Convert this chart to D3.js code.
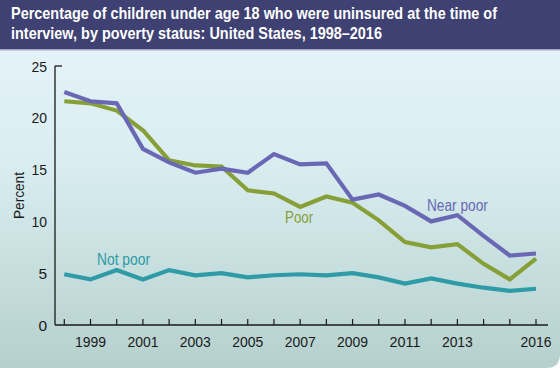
<!DOCTYPE html>
<html>
<head>
<meta charset="utf-8">
<script src="https://cdn.jsdelivr.net/npm/d3@7"></script>
<style>
  body { margin: 0; background: #fff; }
  text { font-family: "Liberation Sans", Arial, sans-serif; }
</style>
</head>
<body>
<div class="chart"></div>
<script>
const years = d3.range(1998, 2017);
const nearPoor = [22.5, 21.6, 21.4, 17.0, 15.7, 14.7, 15.1, 14.7, 16.5, 15.5, 15.6, 12.1, 12.6, 11.5, 10.0, 10.6, 8.6, 6.7, 6.9];
const poor = [21.6, 21.4, 20.7, 18.8, 15.9, 15.4, 15.3, 13.0, 12.7, 11.4, 12.4, 11.8, 10.1, 8.0, 7.5, 7.8, 5.9, 4.4, 6.4];
const notPoor = [4.9, 4.4, 5.3, 4.4, 5.3, 4.8, 5.0, 4.6, 4.8, 4.9, 4.8, 5.0, 4.6, 4.0, 4.5, 4.0, 3.6, 3.3, 3.5];
const yTicks = [0, 5, 10, 15, 20, 25];
const xTickLabels = [1999, 2001, 2003, 2005, 2007, 2009, 2011, 2013, 2016];
const titleLines = [
    'Percentage of children under age 18 who were uninsured at the time of',
    'interview, by poverty status: United States, 1998\u20132016'
];

const width = 560, height = 368;

const svg = d3.select('.chart').append('svg')
    .attr('width', width)
    .attr('height', height)

const defs = svg.append('defs')
const grad = defs.append('linearGradient')
    .attr('id', 'bg')
    .attr('x1', 0).attr('y1', 0).attr('x2', 0).attr('y2', 1)
grad.append('stop').attr('offset', '0%').attr('stop-color', '#e8f5fa')
grad.append('stop').attr('offset', '45%').attr('stop-color', '#d9edf0')
grad.append('stop').attr('offset', '100%').attr('stop-color', '#b5d0cd')

// panel with rounded bottom-right corner
svg.append('path')
    .attr('d', `M0,0 H${width} V${height - 14} Q${width},${height} ${width - 14},${height} H0 Z`)
    .attr('fill', 'url(#bg)')

// header band
svg.append('rect')
    .attr('x', 0).attr('y', 0)
    .attr('width', width).attr('height', 49)
    .attr('fill', '#3e4172')
svg.append('rect')
    .attr('x', 0).attr('y', 49)
    .attr('width', width).attr('height', 1.5)
    .attr('fill', '#a3a8c8')

// condensed look: squeeze text to the widths seen in the reference
const squeeze = (sel, w) => sel.attr('textLength', w).attr('lengthAdjust', 'spacingAndGlyphs')

// title: scaled horizontally so it looks like a condensed face
const titleW = [486, 371];
svg.selectAll('.title')
    .data(titleLines)
    .enter()
    .append('text')
    .attr('class', 'title')
    .attr('fill', '#fff')
    .attr('font-size', 16.5)
    .attr('font-weight', 'bold')
    .text(d => d)
    .each(function(d, i) {
        const natural = this.getComputedTextLength();
        d3.select(this).attr('transform', `translate(11,${19 + i * 20}) scale(${titleW[i] / natural},1)`)
    })

const x = d3.scaleLinear().domain([1998, 2016]).range([64.3, 536]);
const y = d3.scaleLinear().domain([0, 25]).range([325, 66]);

// y axis
svg.append('line')
    .attr('x1', 55).attr('x2', 55)
    .attr('y1', y(25)).attr('y2', y(0))
    .attr('stroke', '#1a1a1a').attr('stroke-width', 1.3)
svg.append('line')
    .attr('x1', 55).attr('x2', 62)
    .attr('y1', y(25)).attr('y2', y(25))
    .attr('stroke', '#1a1a1a').attr('stroke-width', 1.3)

svg.selectAll('.ylab')
    .data(yTicks)
    .enter()
    .append('text')
    .attr('class', 'ylab')
    .attr('x', 47)
    .attr('y', d => y(d) + 5.5)
    .attr('text-anchor', 'end')
    .attr('font-size', 15.5)
    .attr('fill', '#1a1a1a')
    .text(d => d)
    .each(function(d) { if (d >= 10) squeeze(d3.select(this), 15.5) })

squeeze(svg.append('text')
    .attr('transform', `translate(24,${y(12.5)}) rotate(-90)`)
    .attr('x', -23.5)
    .attr('font-size', 15)
    .attr('fill', '#1a1a1a')
    .text('Percent'), 47)

// x axis
svg.append('line')
    .attr('x1', 55).attr('x2', 548)
    .attr('y1', y(0)).attr('y2', y(0))
    .attr('stroke', '#1a1a1a').attr('stroke-width', 1.3)

svg.selectAll('.xtick')
    .data(years)
    .enter()
    .append('line')
    .attr('class', 'xtick')
    .attr('x1', d => x(d)).attr('x2', d => x(d))
    .attr('y1', y(0)).attr('y2', y(0) - 6)
    .attr('stroke', '#1a1a1a').attr('stroke-width', 1.2)

svg.selectAll('.xlab')
    .data(xTickLabels)
    .enter()
    .append('text')
    .attr('class', 'xlab')
    .attr('x', d => x(d) - 15.5)
    .attr('y', 347)
    .attr('font-size', 15.5)
    .attr('fill', '#1a1a1a')
    .text(d => d)
    .each(function() { squeeze(d3.select(this), 31) })

const line = d3.line()
    .x((d, i) => x(years[i]))
    .y(d => y(d))

const series = [
    {name: 'Not poor', values: notPoor, color: '#2e9ba6'},
    {name: 'Poor', values: poor, color: '#879f37'},
    {name: 'Near poor', values: nearPoor, color: '#6a68b5'}
];

svg.selectAll('.series')
    .data(series)
    .enter()
    .append('path')
    .attr('class', 'series')
    .attr('d', d => line(d.values))
    .attr('fill', 'none')
    .attr('stroke', d => d.color)
    .attr('stroke-width', 4.2)
    .attr('stroke-linejoin', 'miter')

const labels = [
    {text: 'Not poor', year: 2000.26, val: 5.8, w: 53, color: '#2e9ba6'},
    {text: 'Poor', year: 2006.96, val: 9.85, w: 28, color: '#879f37'},
    {text: 'Near poor', year: 2013.0, val: 11.0, w: 61, color: '#6a68b5'}
];

svg.selectAll('.lab')
    .data(labels)
    .enter()
    .append('text')
    .attr('class', 'lab')
    .attr('x', d => x(d.year) - d.w / 2)
    .attr('y', d => y(d.val))
    .attr('font-size', 16)
    .attr('fill', d => d.color)
    .text(d => d.text)
    .each(function(d) { squeeze(d3.select(this), d.w) })
</script>
</body>
</html>
